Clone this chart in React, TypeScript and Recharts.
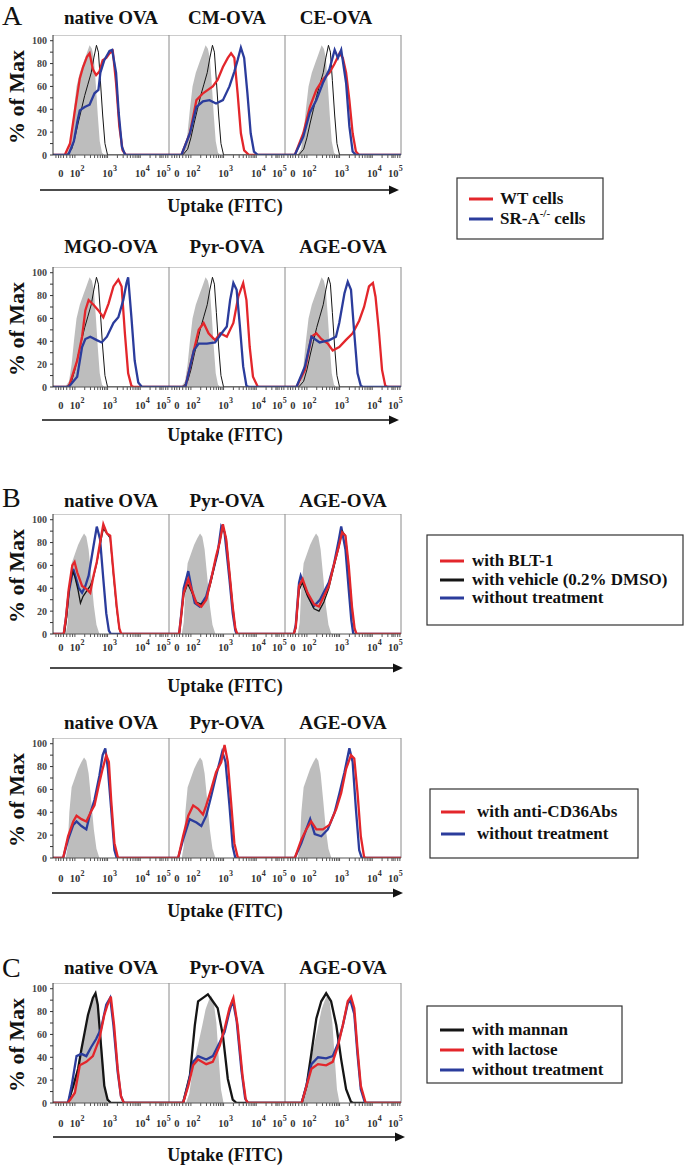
import React from 'react';
import { ComposedChart, Area, Line, XAxis, YAxis, ReferenceLine } from 'recharts';

type Pt = [number, number];

// x is in display decades (10^2 -> 2, 10^3 -> 3 ...), y is % of Max
const X_MIN = 1.33;
const X_MAX = 4.88;
const Y_MAX = 105;

const xMajorTicks = [1.57, 2, 3, 4, 4.64];
const xTickBase = ['0', '10', '10', '10', '10'];
const xTickExp = ['', '2', '3', '4', '5'];
const xLinearTicks = [1.42, 1.5, 1.65, 1.75, 1.85, 1.93];
const xDecades = [2, 3, 4];
const yLabelTicks = [0, 20, 40, 60, 80, 100];
const yMinorTicks = [10, 30, 50, 70, 90];

const RED = '#e3262b';
const BLUE = '#2b3c9c';
const BLACK = '#151515';
const GRAY = '#bdbdbd';
const FONT = '"Liberation Serif", "Times New Roman", serif';

// ---- A (top): control + WT / SR-A-/- ----
const aGray: Pt[] = [[1.7, 0], [1.82, 5], [1.9, 20], [1.97, 40], [2.05, 60], [2.15, 72], [2.25, 80], [2.35, 88], [2.45, 96], [2.52, 93], [2.58, 85], [2.64, 62], [2.7, 35], [2.76, 12], [2.83, 2], [2.9, 0]];
const aBlack: Pt[] = [[1.75, 0], [1.9, 5], [2.0, 15], [2.1, 28], [2.2, 40], [2.3, 52], [2.4, 62], [2.5, 72], [2.58, 85], [2.66, 96], [2.72, 90], [2.78, 65], [2.85, 35], [2.92, 10], [3.0, 0]];
const aNativeRed: Pt[] = [[1.69, 0], [1.85, 10], [2.0, 39], [2.15, 67], [2.25, 77], [2.37, 86], [2.45, 89], [2.55, 75], [2.65, 70], [2.75, 73], [2.85, 83], [2.96, 85], [3.06, 89], [3.16, 91], [3.26, 63], [3.36, 25], [3.46, 4], [3.56, 0]];
const aNativeBlue: Pt[] = [[1.8, 0], [1.97, 12], [2.08, 30], [2.15, 39], [2.3, 42], [2.45, 44], [2.6, 54], [2.72, 57], [2.78, 72], [2.9, 83], [3.06, 91], [3.14, 92], [3.26, 72], [3.34, 37], [3.44, 7], [3.54, 0]];
const aCmRed: Pt[] = [[1.71, 0], [1.97, 19], [2.17, 48], [2.37, 54], [2.52, 57], [2.67, 60], [2.82, 66], [2.98, 77], [3.13, 85], [3.23, 89], [3.33, 85], [3.43, 54], [3.53, 19], [3.63, 4], [3.78, 0]];
const aCmBlue: Pt[] = [[1.71, 0], [1.97, 19], [2.17, 42], [2.37, 47], [2.57, 48], [2.77, 45], [2.98, 48], [3.18, 60], [3.33, 73], [3.43, 83], [3.53, 94], [3.63, 85], [3.73, 54], [3.83, 19], [3.93, 3], [4.05, 0]];
const aCeRed: Pt[] = [[1.63, 0], [1.89, 19], [2.09, 42], [2.29, 57], [2.49, 66], [2.69, 72], [2.85, 80], [3.0, 89], [3.1, 85], [3.2, 72], [3.3, 48], [3.4, 19], [3.5, 3], [3.6, 0]];
const aCeBlue: Pt[] = [[1.63, 0], [1.89, 16], [2.09, 37], [2.29, 48], [2.49, 63], [2.69, 75], [2.85, 92], [2.95, 85], [3.05, 92], [3.2, 63], [3.3, 25], [3.4, 3], [3.5, 0]];

const a2MgoRed: Pt[] = [[1.81, 0], [2.07, 23], [2.22, 44], [2.32, 67], [2.42, 76], [2.57, 72], [2.72, 67], [2.87, 61], [3.03, 73], [3.18, 88], [3.33, 94], [3.43, 88], [3.53, 47], [3.63, 12], [3.73, 1], [3.8, 0]];
const a2MgoBlue: Pt[] = [[1.81, 0], [2.07, 9], [2.22, 35], [2.32, 42], [2.47, 44], [2.67, 41], [2.82, 39], [2.98, 44], [3.18, 56], [3.33, 61], [3.48, 76], [3.58, 91], [3.63, 96], [3.73, 61], [3.83, 23], [3.94, 4], [4.05, 0]];
const a2PyrRed: Pt[] = [[1.83, 0], [2.09, 32], [2.24, 50], [2.39, 56], [2.54, 47], [2.74, 41], [2.9, 47], [3.1, 44], [3.3, 56], [3.45, 79], [3.6, 91], [3.7, 76], [3.8, 35], [3.9, 9], [4.05, 0]];
const a2PyrBlue: Pt[] = [[1.83, 0], [2.09, 32], [2.24, 38], [2.49, 38], [2.74, 39], [2.94, 47], [3.1, 53], [3.2, 76], [3.3, 91], [3.4, 85], [3.5, 53], [3.6, 18], [3.7, 1], [3.78, 0]];
const a2AgeRed: Pt[] = [[1.68, 0], [1.94, 15], [2.14, 44], [2.29, 47], [2.44, 42], [2.64, 38], [2.79, 32], [2.99, 35], [3.19, 41], [3.4, 47], [3.6, 58], [3.75, 70], [3.9, 88], [4.02, 91], [4.1, 79], [4.2, 50], [4.3, 15], [4.4, 1], [4.48, 0]];
const a2AgeBlue: Pt[] = [[1.68, 0], [1.94, 18], [2.14, 44], [2.39, 39], [2.69, 41], [2.89, 44], [2.99, 56], [3.15, 82], [3.25, 92], [3.35, 85], [3.45, 47], [3.55, 12], [3.65, 1], [3.72, 0]];

// ---- B: BLT-1 / vehicle / untreated, then anti-CD36 ----
const bGray: Pt[] = [[1.72, 0], [1.78, 10], [1.83, 40], [1.9, 62], [2.0, 70], [2.1, 78], [2.2, 84], [2.28, 88], [2.35, 85], [2.42, 74], [2.5, 50], [2.58, 25], [2.66, 8], [2.75, 0]];
const bNativeRed: Pt[] = [[1.66, 0], [1.73, 15], [1.81, 39], [1.92, 60], [1.99, 63], [2.07, 54], [2.22, 42], [2.37, 39], [2.47, 36], [2.57, 51], [2.67, 63], [2.77, 80], [2.87, 96], [2.98, 88], [3.08, 86], [3.18, 54], [3.28, 24], [3.36, 5], [3.42, 0]];
const bNativeBlack: Pt[] = [[1.68, 0], [1.75, 15], [1.83, 40], [1.93, 55], [2.0, 50], [2.1, 38], [2.17, 27], [2.25, 33], [2.37, 38], [2.47, 42], [2.57, 50], [2.67, 62], [2.77, 78], [2.87, 92], [2.98, 88], [3.08, 84], [3.18, 52], [3.28, 22], [3.36, 4], [3.42, 0]];
const bNativeBlue: Pt[] = [[1.66, 0], [1.73, 15], [1.81, 36], [1.95, 57], [2.04, 48], [2.12, 40], [2.22, 36], [2.32, 42], [2.42, 51], [2.57, 77], [2.67, 94], [2.77, 83], [2.87, 48], [2.96, 18], [3.04, 3], [3.1, 0]];
const bPyrRed: Pt[] = [[1.64, 0], [1.7, 15], [1.78, 36], [1.92, 48], [2.02, 39], [2.17, 27], [2.32, 24], [2.47, 30], [2.62, 48], [2.77, 68], [2.88, 80], [2.98, 96], [3.08, 83], [3.18, 54], [3.28, 24], [3.36, 5], [3.42, 0]];
const bPyrBlack: Pt[] = [[1.64, 0], [1.7, 14], [1.78, 34], [1.9, 44], [2.02, 37], [2.17, 28], [2.32, 26], [2.47, 30], [2.62, 46], [2.77, 66], [2.88, 80], [2.98, 94], [3.08, 84], [3.18, 55], [3.28, 25], [3.36, 5], [3.42, 0]];
const bPyrBlue: Pt[] = [[1.64, 0], [1.7, 16], [1.78, 40], [1.92, 55], [2.02, 40], [2.12, 27], [2.27, 24], [2.47, 33], [2.67, 54], [2.82, 71], [2.93, 94], [3.03, 89], [3.18, 48], [3.28, 18], [3.36, 3], [3.4, 0]];
const bAgeRed: Pt[] = [[1.6, 0], [1.66, 6], [1.76, 42], [1.87, 48], [2.02, 36], [2.22, 26], [2.37, 24], [2.52, 33], [2.67, 42], [2.82, 60], [2.98, 77], [3.08, 89], [3.18, 86], [3.28, 60], [3.38, 24], [3.46, 5], [3.52, 0]];
const bAgeBlack: Pt[] = [[1.6, 0], [1.66, 5], [1.76, 38], [1.86, 45], [2.02, 33], [2.22, 22], [2.37, 20], [2.52, 28], [2.67, 40], [2.82, 58], [2.98, 76], [3.08, 90], [3.18, 86], [3.28, 58], [3.38, 22], [3.46, 4], [3.52, 0]];
const bAgeBlue: Pt[] = [[1.6, 0], [1.66, 8], [1.76, 45], [1.81, 51], [1.96, 39], [2.2, 24], [2.4, 30], [2.67, 45], [2.82, 60], [2.98, 83], [3.05, 94], [3.18, 74], [3.28, 39], [3.36, 12], [3.42, 0]];

const b2NativeRed: Pt[] = [[1.64, 0], [1.79, 19], [1.95, 32], [2.05, 37], [2.2, 34], [2.35, 32], [2.5, 41], [2.6, 46], [2.75, 66], [2.85, 78], [2.96, 90], [3.04, 84], [3.11, 51], [3.21, 13], [3.31, 1], [3.35, 0]];
const b2NativeBlue: Pt[] = [[1.64, 0], [1.79, 16], [1.95, 29], [2.05, 32], [2.2, 28], [2.35, 25], [2.45, 37], [2.6, 51], [2.75, 72], [2.85, 90], [2.93, 96], [3.01, 78], [3.11, 43], [3.21, 7], [3.28, 0]];
const b2PyrRed: Pt[] = [[1.61, 0], [1.76, 19], [1.92, 37], [2.07, 46], [2.22, 43], [2.37, 38], [2.47, 46], [2.62, 60], [2.77, 75], [2.93, 84], [3.03, 99], [3.13, 84], [3.23, 49], [3.33, 13], [3.43, 1], [3.47, 0]];
const b2PyrBlue: Pt[] = [[1.61, 0], [1.76, 16], [1.96, 34], [2.17, 31], [2.32, 28], [2.47, 37], [2.62, 54], [2.77, 72], [2.88, 84], [2.96, 93], [3.06, 84], [3.18, 46], [3.28, 10], [3.36, 0]];
const b2AgeRed: Pt[] = [[1.63, 0], [1.83, 16], [1.98, 25], [2.13, 32], [2.29, 25], [2.49, 25], [2.69, 29], [2.9, 43], [3.05, 57], [3.2, 78], [3.35, 90], [3.45, 87], [3.55, 57], [3.65, 19], [3.75, 1], [3.8, 0]];
const b2AgeBlue: Pt[] = [[1.63, 0], [1.83, 13], [1.98, 25], [2.1, 34], [2.24, 21], [2.44, 19], [2.64, 25], [2.85, 40], [3.0, 57], [3.15, 75], [3.3, 96], [3.4, 84], [3.5, 43], [3.6, 7], [3.68, 0]];

// ---- C: mannan / lactose / untreated ----
const cGray: Pt[] = [[1.85, 0], [1.95, 8], [2.05, 28], [2.15, 42], [2.25, 55], [2.35, 68], [2.45, 82], [2.55, 90], [2.62, 94], [2.7, 88], [2.78, 70], [2.85, 40], [2.92, 12], [3.0, 0]];
const cNativeBlack: Pt[] = [[1.79, 0], [1.95, 15], [2.1, 30], [2.2, 47], [2.3, 62], [2.4, 77], [2.55, 92], [2.63, 96], [2.7, 86], [2.8, 50], [2.9, 15], [3.0, 3], [3.1, 0]];
const cNativeRed: Pt[] = [[1.79, 0], [2.0, 9], [2.15, 33], [2.35, 36], [2.55, 41], [2.75, 56], [2.9, 77], [3.0, 86], [3.1, 93], [3.2, 68], [3.31, 30], [3.41, 6], [3.5, 0]];
const cNativeBlue: Pt[] = [[1.79, 0], [1.9, 15], [2.05, 41], [2.2, 43], [2.35, 41], [2.5, 49], [2.65, 56], [2.8, 65], [2.96, 86], [3.08, 92], [3.18, 68], [3.31, 27], [3.41, 6], [3.5, 0]];
const cPyrBlack: Pt[] = [[1.76, 0], [1.97, 24], [2.12, 68], [2.22, 89], [2.37, 92], [2.52, 95], [2.67, 89], [2.82, 83], [2.98, 59], [3.13, 21], [3.28, 3], [3.4, 0]];
const cPyrRed: Pt[] = [[1.76, 0], [1.92, 15], [2.07, 33], [2.22, 38], [2.47, 34], [2.67, 36], [2.88, 50], [3.03, 65], [3.18, 83], [3.3, 92], [3.43, 68], [3.58, 24], [3.68, 3], [3.75, 0]];
const cPyrBlue: Pt[] = [[1.76, 0], [1.92, 17], [2.07, 36], [2.22, 41], [2.47, 38], [2.67, 41], [2.88, 53], [3.03, 62], [3.18, 80], [3.28, 90], [3.4, 72], [3.55, 28], [3.66, 4], [3.74, 0]];
const cAgeBlack: Pt[] = [[1.84, 0], [1.99, 15], [2.14, 44], [2.29, 74], [2.44, 89], [2.59, 96], [2.74, 89], [2.9, 68], [3.05, 38], [3.2, 12], [3.35, 1], [3.42, 0]];
const cAgeRed: Pt[] = [[1.84, 0], [1.99, 15], [2.14, 30], [2.34, 34], [2.59, 33], [2.79, 36], [2.95, 50], [3.1, 68], [3.25, 89], [3.35, 93], [3.45, 83], [3.55, 47], [3.65, 15], [3.8, 0]];
const cAgeBlue: Pt[] = [[1.84, 0], [1.99, 16], [2.14, 34], [2.34, 40], [2.59, 39], [2.79, 41], [2.95, 52], [3.1, 68], [3.25, 87], [3.33, 90], [3.45, 78], [3.55, 42], [3.65, 12], [3.78, 0]];

const PANEL_LEFTS = [53, 169, 285];
const PLOT_W = 116;
const PLOT_H = 120;
const Y_AXIS_W = 40;
const LW = 2.3;

const xMinorTicks = [
  ...xLinearTicks,
  ...xDecades.flatMap((d) => [2, 3, 4, 5, 6, 7, 8, 9].map((m) => d + Math.log10(m))),
].filter((v) => v < X_MAX);
const xAllTicks = [...xMajorTicks, ...xMinorTicks].sort((a, b) => a - b);
const yAllTicks = [...yLabelTicks, ...yMinorTicks].sort((a, b) => a - b);

// flat zero baseline across the whole panel, as flow histograms are drawn
const toData = (pts: Pt[]) =>
  [[X_MIN, 0] as Pt, ...pts, [X_MAX, 0] as Pt].map(([x, y]) => ({ x, y }));

type Series = { pts: Pt[]; color: string; w: number };
type PanelDef = { gray: Pt[]; lines: Series[] };
type RowDef = { top: number; titleY: number; labelDy: number; titles: string[]; titleX?: number[]; panels: PanelDef[] };

const rows: RowDef[] = [
  {
    top: 35, titleY: 24, labelDy: 22, titles: ['native OVA', 'CM-OVA', 'CE-OVA'], titleX: [111, 227, 336],
    panels: [
      { gray: aGray, lines: [{ pts: aBlack, color: BLACK, w: 1 }, { pts: aNativeRed, color: RED, w: LW }, { pts: aNativeBlue, color: BLUE, w: LW }] },
      { gray: aGray, lines: [{ pts: aBlack, color: BLACK, w: 1 }, { pts: aCmRed, color: RED, w: LW }, { pts: aCmBlue, color: BLUE, w: LW }] },
      { gray: aGray, lines: [{ pts: aBlack, color: BLACK, w: 1 }, { pts: aCeRed, color: RED, w: LW }, { pts: aCeBlue, color: BLUE, w: LW }] },
    ],
  },
  {
    top: 267, titleY: 253, labelDy: 22, titles: ['MGO-OVA', 'Pyr-OVA', 'AGE-OVA'],
    panels: [
      { gray: aGray, lines: [{ pts: aBlack, color: BLACK, w: 1 }, { pts: a2MgoRed, color: RED, w: LW }, { pts: a2MgoBlue, color: BLUE, w: LW }] },
      { gray: aGray, lines: [{ pts: aBlack, color: BLACK, w: 1 }, { pts: a2PyrRed, color: RED, w: LW }, { pts: a2PyrBlue, color: BLUE, w: LW }] },
      { gray: aGray, lines: [{ pts: aBlack, color: BLACK, w: 1 }, { pts: a2AgeRed, color: RED, w: LW }, { pts: a2AgeBlue, color: BLUE, w: LW }] },
    ],
  },
  {
    top: 514, titleY: 507, labelDy: 17, titles: ['native OVA', 'Pyr-OVA', 'AGE-OVA'],
    panels: [
      { gray: bGray, lines: [{ pts: bNativeBlue, color: BLUE, w: LW }, { pts: bNativeBlack, color: BLACK, w: 1.3 }, { pts: bNativeRed, color: RED, w: LW }] },
      { gray: bGray, lines: [{ pts: bPyrBlue, color: BLUE, w: LW }, { pts: bPyrBlack, color: BLACK, w: 1.3 }, { pts: bPyrRed, color: RED, w: LW }] },
      { gray: bGray, lines: [{ pts: bAgeBlue, color: BLUE, w: LW }, { pts: bAgeBlack, color: BLACK, w: 1.3 }, { pts: bAgeRed, color: RED, w: LW }] },
    ],
  },
  {
    top: 738, titleY: 729, labelDy: 24, titles: ['native OVA', 'Pyr-OVA', 'AGE-OVA'],
    panels: [
      { gray: bGray, lines: [{ pts: b2NativeBlue, color: BLUE, w: LW }, { pts: b2NativeRed, color: RED, w: LW }] },
      { gray: bGray, lines: [{ pts: b2PyrBlue, color: BLUE, w: LW }, { pts: b2PyrRed, color: RED, w: LW }] },
      { gray: bGray, lines: [{ pts: b2AgeBlue, color: BLUE, w: LW }, { pts: b2AgeRed, color: RED, w: LW }] },
    ],
  },
  {
    top: 983, titleY: 974, labelDy: 24, titles: ['native OVA', 'Pyr-OVA', 'AGE-OVA'],
    panels: [
      { gray: cGray, lines: [{ pts: cNativeBlack, color: BLACK, w: LW }, { pts: cNativeBlue, color: BLUE, w: LW }, { pts: cNativeRed, color: RED, w: LW }] },
      { gray: cGray, lines: [{ pts: cPyrBlack, color: BLACK, w: LW }, { pts: cPyrBlue, color: BLUE, w: LW }, { pts: cPyrRed, color: RED, w: LW }] },
      { gray: cGray, lines: [{ pts: cAgeBlack, color: BLACK, w: LW }, { pts: cAgeBlue, color: BLUE, w: LW }, { pts: cAgeRed, color: RED, w: LW }] },
    ],
  },
];

const captions = [
  { arrowY: 190, x1: 40, x2: 399, textY: 212 },
  { arrowY: 420, x1: 42, x2: 399, textY: 441 },
  { arrowY: 668, x1: 50, x2: 403, textY: 692 },
  { arrowY: 893, x1: 52, x2: 403, textY: 917 },
  { arrowY: 1137, x1: 53, x2: 405, textY: 1161 },
];

type LegendItem = { label: React.ReactNode; color: string };
const legends: { x: number; y: number; w: number; h: number; lineX: number; textX: number; rowY: number[]; items: LegendItem[] }[] = [
  {
    x: 457, y: 178, w: 146, h: 61, lineX: 469, textX: 500, rowY: [199, 219],
    items: [
      { label: 'WT cells', color: RED },
      { label: <>SR-A<tspan dy={-7} fontSize={11}>-/-</tspan><tspan dy={7}> cells</tspan></>, color: BLUE },
    ],
  },
  {
    x: 427, y: 535, w: 256, h: 90, lineX: 440, textX: 472, rowY: [561, 580, 598],
    items: [
      { label: 'with BLT-1', color: RED },
      { label: 'with vehicle (0.2% DMSO)', color: BLACK },
      { label: 'without treatment', color: BLUE },
    ],
  },
  {
    x: 430, y: 789, w: 208, h: 69, lineX: 441, textX: 477, rowY: [812, 834],
    items: [
      { label: 'with anti-CD36Abs', color: RED },
      { label: 'without treatment', color: BLUE },
    ],
  },
  {
    x: 427, y: 1006, w: 195, h: 77, lineX: 440, textX: 472, rowY: [1030, 1050, 1070],
    items: [
      { label: 'with mannan', color: BLACK },
      { label: 'with lactose', color: RED },
      { label: 'without treatment', color: BLUE },
    ],
  },
];

const panelLetters = [
  { t: 'A', y: 25 },
  { t: 'B', y: 507 },
  { t: 'C', y: 977 },
];

const XTick = (props: any) => {
  const { x, y, payload, labelDy } = props;
  const i = xMajorTicks.indexOf(payload.value);
  if (i < 0) return <g />;
  const base = y - 5 + labelDy;
  return (
    <g>
      <text x={x} y={base} textAnchor="middle" fontFamily={FONT} fontWeight="bold" fontSize={10.5} fill="#333">
        {xTickBase[i]}
      </text>
      {xTickExp[i] && (
        <text x={x + 5.5} y={base - 6} fontFamily={FONT} fontWeight="bold" fontSize={8} fill="#333">
          {xTickExp[i]}
        </text>
      )}
    </g>
  );
};

const YTick = (props: any) => {
  const { x, y, payload } = props;
  if (!yLabelTicks.includes(payload.value)) return <g />;
  return (
    <text x={x} y={y + 3.5} textAnchor="end" fontFamily={FONT} fontWeight="bold" fontSize={10} fill="#444">
      {payload.value}
    </text>
  );
};

function Panel({ left, top, showY, labelDy, def }: { left: number; top: number; showY: boolean; labelDy: number; def: PanelDef }) {
  const yW = showY ? Y_AXIS_W : 0;
  return (
    <div style={{ position: 'absolute', left: left - yW, top }}>
      <ComposedChart
        width={yW + PLOT_W + 12}
        height={PLOT_H + 30}
        margin={{ top: 0, right: 12, bottom: 0, left: 0 }}
      >
        <XAxis
          type="number"
          dataKey="x"
          domain={[X_MIN, X_MAX]}
          allowDataOverflow
          ticks={xAllTicks}
          interval={0}
          height={30}
          tickSize={3}
          tickMargin={2}
          stroke="#555"
          tick={<XTick labelDy={labelDy} />}
        />
        <YAxis
          type="number"
          domain={[0, Y_MAX]}
          allowDataOverflow
          ticks={yAllTicks}
          interval={0}
          width={yW}
          hide={!showY}
          tickSize={3}
          tickMargin={3}
          stroke="#333"
          tick={<YTick />}
        />
        <ReferenceLine y={Y_MAX} stroke="#9a9a9a" />
        <ReferenceLine x={X_MAX} stroke="#8a8a8a" />
        <Area
          data={toData(def.gray)}
          dataKey="y"
          type="linear"
          fill={GRAY}
          fillOpacity={1}
          stroke="none"
          isAnimationActive={false}
        />
        {def.lines.map((s, i) => (
          <Line
            key={i}
            data={toData(s.pts)}
            dataKey="y"
            type="linear"
            stroke={s.color}
            strokeWidth={s.w}
            dot={false}
            isAnimationActive={false}
          />
        ))}
      </ComposedChart>
    </div>
  );
}

export default function App() {
  return (
    <div style={{ position: 'absolute', left: 0, top: 0, width: 694, height: 1166, background: '#fff' }}>
      <svg width={694} height={1166} style={{ position: 'absolute', left: 0, top: 0 }}>
        {panelLetters.map((p) => (
          <text key={p.t} x={2} y={p.y} fontFamily={FONT} fontSize={28} fill="#111">
            {p.t}
          </text>
        ))}
        {rows.map((r, ri) => (
          <g key={ri}>
            {r.titles.map((t, i) => (
              <text
                key={t + i}
                x={r.titleX ? r.titleX[i] : PANEL_LEFTS[i] + PLOT_W / 2}
                y={r.titleY}
                textAnchor="middle"
                fontFamily={FONT}
                fontWeight="bold"
                fontSize={19}
                fill="#111"
              >
                {t}
              </text>
            ))}
            <text
              x={0}
              y={0}
              transform={`translate(24 ${r.top + PLOT_H / 2 + 2}) rotate(-90)`}
              textAnchor="middle"
              fontFamily={FONT}
              fontWeight="bold"
              fontSize={22}
              fill="#111"
            >
              % of Max
            </text>
          </g>
        ))}
        {captions.map((c, i) => (
          <g key={i}>
            <line x1={c.x1} x2={c.x2 - 9} y1={c.arrowY} y2={c.arrowY} stroke="#111" strokeWidth={1.3} />
            <polygon points={`${c.x2},${c.arrowY} ${c.x2 - 10},${c.arrowY - 4.5} ${c.x2 - 10},${c.arrowY + 4.5}`} fill="#111" />
            <text x={225} y={c.textY} textAnchor="middle" fontFamily={FONT} fontWeight="bold" fontSize={18} fill="#111">
              Uptake (FITC)
            </text>
          </g>
        ))}
        {legends.map((l, li) => (
          <g key={li}>
            <rect x={l.x} y={l.y} width={l.w} height={l.h} fill="#fff" stroke="#333" strokeWidth={1.2} />
            {l.items.map((it, i) => (
              <g key={i}>
                <line x1={l.lineX} x2={l.lineX + 24} y1={l.rowY[i]} y2={l.rowY[i]} stroke={it.color} strokeWidth={3} />
                <text x={l.textX} y={l.rowY[i] + 5} fontFamily={FONT} fontWeight="bold" fontSize={17} fill="#111">
                  {it.label}
                </text>
              </g>
            ))}
          </g>
        ))}
      </svg>
      {rows.map((r, ri) =>
        r.panels.map((p, pi) => (
          <Panel key={`${ri}-${pi}`} left={PANEL_LEFTS[pi]} top={r.top} showY={pi === 0} labelDy={r.labelDy} def={p} />
        ))
      )}
    </div>
  );
}
